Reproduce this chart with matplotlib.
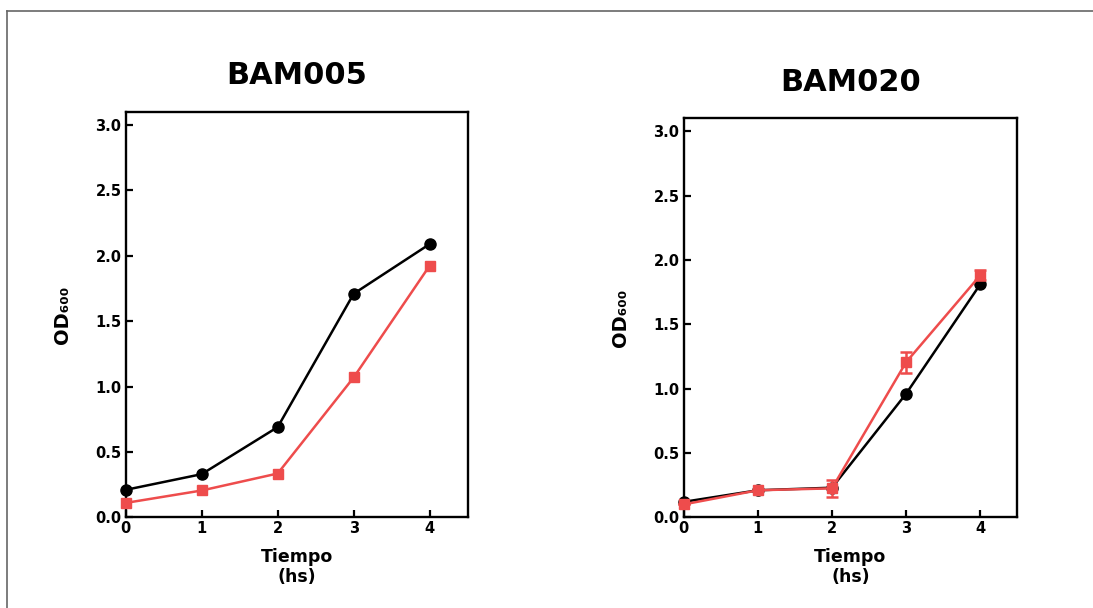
import matplotlib.pyplot as plt
from matplotlib.lines import Line2D

# data
tiempo = [0, 1, 2, 3, 4]

bam005_black = [0.21, 0.33, 0.69, 1.71, 2.09]
bam005_red = [0.11, 0.205, 0.335, 1.07, 1.925]

bam020_black = [0.12, 0.21, 0.23, 0.96, 1.81]
bam020_red = [0.10, 0.21, 0.225, 1.205, 1.88]
bam020_red_err = [0.0, 0.0, 0.065, 0.08, 0.04]

titles = ["BAM005", "BAM020"]
yticks = [0.0, 0.5, 1.0, 1.5, 2.0, 2.5, 3.0]

RED = '#EE4C4C'

plt.rcParams['font.family'] = 'DejaVu Sans'
plt.rcParams['font.weight'] = 'bold'

fig = plt.figure(figsize=(10.93, 6.08), dpi=100)

W, H = 1093, 608

def add_axes_px(left, top, right, bottom):
	return fig.add_axes([left / W, 1 - bottom / H, (right - left) / W, (bottom - top) / H])

ax1 = add_axes_px(125.7, 112, 467.7, 517.3)
ax2 = add_axes_px(683.7, 118.3, 1017.3, 517.3)

def style_axes(ax, title):
	ax.set_xlim(0, 4.5)
	ax.set_ylim(0, 3.1)
	ax.set_xticks(tiempo)
	ax.set_yticks(yticks)
	ax.set_yticklabels(["%.1f" % v for v in yticks])
	for s in ax.spines.values():
		s.set_linewidth(1.7)
	ax.tick_params(direction='in', length=5, width=1.6, labelsize=10.5, pad=3)
	for lab in ax.get_xticklabels() + ax.get_yticklabels():
		lab.set_fontweight('bold')
	ax.set_title(title, fontsize=22, fontweight='bold', pad=20)
	ax.set_xlabel("Tiempo\n(hs)", fontsize=12.5, fontweight='bold', labelpad=8, linespacing=1.15)
	ax.set_ylabel("OD\u2086\u2080\u2080", fontsize=14, fontweight='bold', labelpad=17)

# BAM005
ax1.plot(tiempo, bam005_black, '-o', color='black', lw=1.8, ms=8, clip_on=False, zorder=3)
ax1.plot(tiempo, bam005_red, '-s', color=RED, lw=1.8, ms=7.5, clip_on=False, zorder=4)
style_axes(ax1, titles[0])

# BAM020
ax2.plot(tiempo, bam020_black, '-o', color='black', lw=1.8, ms=8, clip_on=False, zorder=3)
ax2.errorbar(tiempo, bam020_red, yerr=bam020_red_err, fmt='-s', color=RED, lw=1.8, ms=7.5,
             capsize=4.5, capthick=1.8, elinewidth=1.8, clip_on=False, zorder=4)
style_axes(ax2, titles[1])

# frame around the figure (top and left edges only visible)
fig.add_artist(Line2D([7 / W, 1], [1 - 10.5 / H, 1 - 10.5 / H], color='#666666', lw=1.2, transform=fig.transFigure))
fig.add_artist(Line2D([7 / W, 7 / W], [0, 1 - 10.5 / H], color='#666666', lw=1.2, transform=fig.transFigure))

fig.savefig("out.png", dpi=100)
